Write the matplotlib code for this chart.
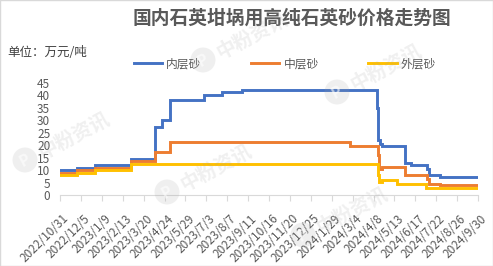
import matplotlib
matplotlib.use("Agg")
import matplotlib.pyplot as plt
from matplotlib.transforms import ScaledTranslation
from matplotlib.patches import Rectangle, Circle
import pandas as pd

plt.rcParams['font.family'] = ['Noto Sans CJK SC', 'DejaVu Sans']

title = "国内石英坩埚用高纯石英砂价格走势图"
unit_label = "单位：万元/吨"
series_names = ["内层砂", "中层砂", "外层砂"]
colors = ["#4472C4", "#ED7D31", "#FFC000"]
watermark_text = "中粉资讯"

end_date = "2024-09-30"

inner_dates = ["2022-10-31", "2022-11-28", "2022-12-28", "2023-02-27", "2023-04-08",
               "2023-04-19", "2023-05-04", "2023-06-29", "2023-07-30", "2023-08-31",
               "2024-04-14", "2024-04-16", "2024-04-19", "2024-04-23", "2024-05-30",
               "2024-06-10", "2024-07-06", "2024-07-10", "2024-07-28"]
inner_vals = [10.0, 11.0, 12.0, 14.5, 27.5,
              30.2, 38.3, 40.3, 41.2, 42.2,
              35.0, 22.0, 20.5, 19.7, 12.8,
              12.0, 10.5, 8.2, 7.1]

middle_dates = ["2022-10-31", "2022-11-28", "2022-12-28", "2023-02-27", "2023-04-08",
                "2023-05-04", "2024-02-29", "2024-04-16", "2024-04-18", "2024-04-23",
                "2024-05-30", "2024-07-06", "2024-07-10", "2024-07-28"]
middle_vals = [9.0, 10.0, 11.0, 13.7, 17.3,
               21.2, 19.8, 16.0, 10.3, 11.1,
               8.0, 6.3, 4.4, 3.9]

outer_dates = ["2022-10-31", "2022-11-28", "2022-12-28", "2023-02-27", "2024-04-16",
               "2024-04-18", "2024-04-22", "2024-05-17", "2024-07-05"]
outer_vals = [8.0, 9.0, 10.0, 12.3, 8.0,
              5.3, 6.1, 4.6, 3.0]

tick_start = "2022-10-31"
tick_step_days = 35
tick_count = 21

W, H = 493, 266
fig = plt.figure(figsize=(W / 100, H / 100), dpi=100)
fig.patch.set_facecolor("white")
fig.patches.append(Rectangle((0, 0), 1, 1, transform=fig.transFigure, fill=False,
                             edgecolor="#D9D9D9", linewidth=1.0))

ax = fig.add_axes([60 / W, 71 / H, 418 / W, 112 / H])

def draw(dates, vals, color, label):
    d = pd.to_datetime(dates + [end_date])
    v = list(vals) + [vals[-1]]
    ax.plot(d, v, drawstyle="steps-post", color=color, linewidth=2.1, label=label,
            solid_joinstyle="miter")

draw(inner_dates, inner_vals, colors[0], series_names[0])
draw(middle_dates, middle_vals, colors[1], series_names[1])
draw(outer_dates, outer_vals, colors[2], series_names[2])

ticks = pd.date_range(tick_start, periods=tick_count, freq=f"{tick_step_days}D")
ax.set_xlim(ticks[0], ticks[-1])
ax.set_ylim(0, 45)
ax.set_yticks(range(0, 46, 5))
ax.set_xticks(ticks)
ax.set_xticklabels([f"{t.year}/{t.month}/{t.day}" for t in ticks])

for s in ["top", "right", "left"]:
    ax.spines[s].set_visible(False)
ax.spines["bottom"].set_color("#D9D9D9")
ax.spines["bottom"].set_linewidth(0.8)

ax.tick_params(axis="y", length=0, pad=7, labelsize=8.5, labelcolor="#595959")
ax.tick_params(axis="x", length=4, width=0.8, color="#D9D9D9", labelsize=8.5,
               labelcolor="#595959", pad=0)

offset = ScaledTranslation(7 / 100, -16 / 100, fig.dpi_scale_trans)
for lab in ax.get_xticklabels():
    lab.set_rotation(45)
    lab.set_ha("right")
    lab.set_va("center")
    lab.set_rotation_mode("anchor")
    lab.set_transform(lab.get_transform() + offset)

fig.text(292 / W, 1 - 18 / H, title, ha="center", va="center", fontsize=13.5,
         fontweight="bold", color="#595959")
fig.text(7 / W, 1 - 53 / H, unit_label, ha="left", va="center", fontsize=9, color="#404040")

fig.legend(loc="center", bbox_to_anchor=(285 / W, 1 - 64 / H), ncol=3, frameon=False,
           fontsize=8.5, handlelength=2.4, handletextpad=0.35, columnspacing=4.2,
           labelcolor="#595959")

# faint watermarks (logo circle + rotated text), only those fully inside the picture
wm_centers = [(203, 60), (337, 92), (25, 160), (167, 192), (303, 235)]
for (cx, cy) in wm_centers:
    xin, yin = cx / 100, (H - cy) / 100
    fig.patches.append(Circle((xin, yin), 0.125, transform=fig.dpi_scale_trans,
                              facecolor="#A0A0A0", edgecolor="none", alpha=0.16, zorder=10))
    fig.text(cx / W, 1 - cy / H, "P", ha="center", va="center",
             fontsize=11, fontweight="bold", color="white", alpha=0.6, rotation=28, zorder=11)
    tx, ty = cx + 14, cy - 6
    fig.text(tx / W, 1 - ty / H, watermark_text, ha="left", va="center", fontsize=14,
             fontweight="bold", color="#A0A0A0", alpha=0.16, rotation=28,
             rotation_mode="anchor", zorder=10)

fig.savefig("out.png", dpi=100)
